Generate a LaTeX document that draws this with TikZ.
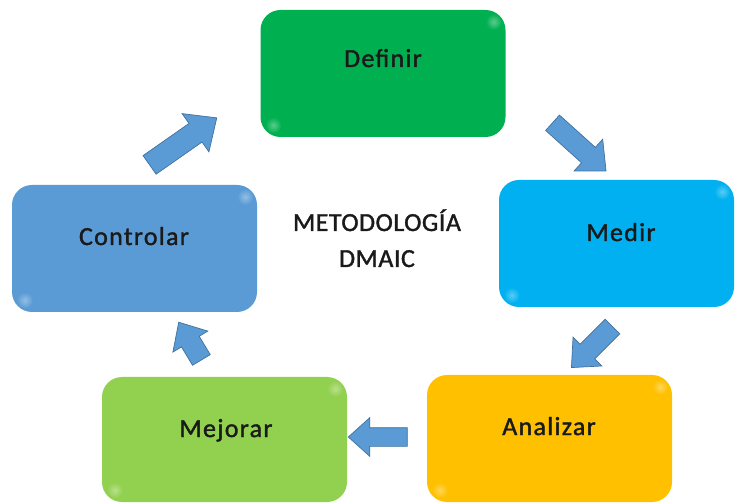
\documentclass[tikz,border=0pt]{standalone}
\usepackage{fontspec}
\setmainfont{Carlito}
\newfontfamily\boxfont{Carlito}[LetterSpace=5,FakeBold=1.4]
\newfontfamily\titlefont{Carlito}[LetterSpace=2,FakeBold=1.4]
\usetikzlibrary{shapes.arrows}

\definecolor{defgreen}{HTML}{00B050}
\definecolor{medblue}{HTML}{00B0F0}
\definecolor{anaorange}{HTML}{FFC000}
\definecolor{mejgreen}{HTML}{92D050}
\definecolor{ctlblue}{HTML}{5B9BD5}
\definecolor{arrowfill}{HTML}{5B9BD5}
\definecolor{arrowline}{HTML}{41719C}
\definecolor{ink}{HTML}{1A1A1A}

% soft highlight in two opposite corners of a box
\newcommand\cornerglow[2]{%
  \shade[inner color=#2!65!white, outer color=#2]
    ([xshift=-12pt,yshift=-12pt]#1.north east) circle (8pt);
  \shade[inner color=#2!65!white, outer color=#2]
    ([xshift=13pt,yshift=12pt]#1.south west) circle (8pt);
}

\begin{document}
\begin{tikzpicture}[x=1pt,y=1pt,
  stagebox/.style={rounded corners=20pt, minimum width=245pt, minimum height=127pt,
    inner sep=0pt, draw=none},
  stagelabel/.style={anchor=base, inner sep=0pt, text=ink,
    font=\boxfont\fontsize{26}{30}\selectfont},
  titlelabel/.style={anchor=base, inner sep=0pt, text=ink,
    font=\titlefont\fontsize{26}{30}\selectfont},
  flowarrow/.style={single arrow, draw=arrowline, fill=arrowfill, line width=0.7pt,
    single arrow tip angle=84, anchor=center, outer sep=0pt}
]
\useasboundingbox (0,0) rectangle (735,503);
\fill[white] (0,0) rectangle (735,503);

% the five DMAIC stages
\node[stagebox, fill=defgreen]  (def) at (383,429.5) {};
\node[stagebox, fill=medblue, minimum width=235pt] (med) at (616.5,259.5) {};
\node[stagebox, fill=anaorange] (ana) at (549.5,64.5) {};
\node[stagebox, fill=mejgreen, minimum height=125pt] (mej) at (224.5,63.5) {};
\node[stagebox, fill=ctlblue]   (ctl) at (134.5,254.5) {};

\cornerglow{def}{defgreen}
\cornerglow{med}{medblue}
\cornerglow{ana}{anaorange}
\cornerglow{mej}{mejgreen}
\cornerglow{ctl}{ctlblue}

\node[stagelabel] (deft) at (383,436) {Definir};
\node[stagelabel] (medt) at (621,262) {Medir};
\node[stagelabel] (anat) at (549,68) {Analizar};
\node[stagelabel] (mejt) at (226,66) {Mejorar};
\node[stagelabel] (ctlt) at (134,258) {Controlar};

% central title
\node[titlelabel] (title1) at (377,272) {METODOLOGÍA};
\node[titlelabel] (title2) at (377,236) {DMAIC};

% block arrows between the stages
\node[flowarrow, minimum height=82pt, inner sep=11pt, single arrow head extend=12pt,
  rotate=35]  (a1) at (178,358) {};
\node[flowarrow, minimum height=72pt, inner sep=10pt, single arrow head extend=11pt,
  rotate=-42] (a2) at (575,360) {};
\node[flowarrow, minimum height=58pt, inner sep=10pt, single arrow head extend=10pt,
  rotate=225] (a3) at (596,160) {};
\node[flowarrow, minimum height=59pt, inner sep=9pt, single arrow head extend=10pt,
  rotate=180] (a4) at (383,66) {};
\node[flowarrow, minimum height=44pt, inner sep=10pt, single arrow head extend=10pt,
  rotate=121] (a5) at (193,157) {};
\end{tikzpicture}
\end{document}
